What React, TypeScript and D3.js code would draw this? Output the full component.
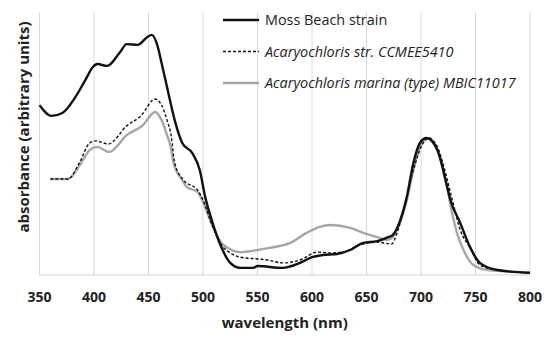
import React from "react";
import * as d3 from "d3";

// spectra: wavelength (nm) / absorbance (arbitrary, 0..1)
const mossWl = [350, 361, 371, 383, 392, 399, 403, 412, 424, 430, 440, 449, 453, 458, 462, 468, 474, 481, 490, 497, 502, 508, 516, 525, 534, 546, 550, 573, 589, 600, 610, 623, 635, 647, 660, 670, 674, 681, 687, 693, 699, 705, 715, 724, 727, 736, 745, 754, 770, 800];
const mossAbs = [0.646, 0.605, 0.616, 0.677, 0.741, 0.791, 0.802, 0.795, 0.848, 0.878, 0.875, 0.905, 0.913, 0.875, 0.806, 0.696, 0.589, 0.502, 0.464, 0.399, 0.297, 0.209, 0.114, 0.046, 0.027, 0.027, 0.034, 0.027, 0.046, 0.068, 0.076, 0.08, 0.095, 0.122, 0.129, 0.144, 0.152, 0.209, 0.297, 0.426, 0.502, 0.521, 0.475, 0.335, 0.285, 0.198, 0.106, 0.046, 0.019, 0.008];

const ccmeeWl = [360, 376, 387, 396, 402, 413, 430, 443, 456, 462, 467, 471, 474, 482, 495, 500, 509, 517, 525, 534, 550, 559, 573, 589, 605, 617, 628, 644, 660, 673, 678, 684, 693, 702, 707, 715, 720, 728, 736, 745, 754, 770, 800];
const ccmeeAbs = [0.365, 0.365, 0.43, 0.502, 0.51, 0.498, 0.567, 0.605, 0.669, 0.646, 0.589, 0.525, 0.426, 0.361, 0.323, 0.285, 0.183, 0.114, 0.084, 0.068, 0.061, 0.057, 0.046, 0.057, 0.087, 0.084, 0.087, 0.114, 0.125, 0.118, 0.16, 0.247, 0.399, 0.502, 0.521, 0.487, 0.426, 0.297, 0.171, 0.103, 0.038, 0.019, 0.008];

const mbicWl = [360, 376, 387, 396, 403, 414, 430, 445, 456, 462, 467, 470, 473, 481, 485, 495, 500, 509, 517, 523, 534, 550, 561, 580, 595, 607, 617, 635, 647, 660, 669, 674, 681, 687, 693, 699, 707, 713, 719, 725, 728, 733, 739, 748, 761, 800];
const mbicAbs = [0.365, 0.365, 0.418, 0.475, 0.487, 0.468, 0.532, 0.57, 0.62, 0.589, 0.532, 0.494, 0.426, 0.361, 0.335, 0.316, 0.278, 0.183, 0.122, 0.103, 0.087, 0.095, 0.103, 0.122, 0.16, 0.183, 0.19, 0.179, 0.16, 0.144, 0.133, 0.144, 0.202, 0.285, 0.399, 0.487, 0.521, 0.494, 0.426, 0.312, 0.247, 0.16, 0.095, 0.038, 0.019, 0.011];

const xTicks = [350, 400, 450, 500, 550, 600, 650, 700, 750, 800];
const seriesNames = ["Moss Beach strain", "Acaryochloris str. CCMEE5410", "Acaryochloris marina (type) MBIC11017"];

const W = 550;
const H = 338;
const font = "'Open Sans', 'DejaVu Sans', sans-serif";

export default function App() {
  const x = d3.scaleLinear().domain([350, 800]).range([39.5, 530]);
  const y = d3.scaleLinear().domain([0, 1]).range([275, 12]);

  const line = d3
    .line<[number, number]>()
    .x((d) => x(d[0]))
    .y((d) => y(d[1]))
    .curve(d3.curveMonotoneX);

  const zip = (a: number[], b: number[]) => a.map((v, i) => [v, b[i]] as [number, number]);

  const series = [
    { name: seriesNames[0], pts: zip(mossWl, mossAbs), stroke: "#111", width: 2.4, dash: undefined, italic: false },
    { name: seriesNames[1], pts: zip(ccmeeWl, ccmeeAbs), stroke: "#111", width: 1.4, dash: "3,2", italic: true },
    { name: seriesNames[2], pts: zip(mbicWl, mbicAbs), stroke: "#a6a6a6", width: 2.4, dash: undefined, italic: true },
  ];

  // gray under the dashed, black on top
  const drawOrder = [series[2], series[1], series[0]];

  return (
    <svg
      width={W}
      height={H}
      style={{ position: "absolute", left: 0, top: 0, background: "#fff" }}
      fontFamily={font}
    >
      {xTicks.map((t) => (
        <line key={t} x1={x(t)} x2={x(t)} y1={y(1)} y2={y(0)} stroke="#d9d9d9" strokeWidth={1} />
      ))}
      <line x1={x(350)} x2={x(800)} y1={y(0)} y2={y(0)} stroke="#d0d0d0" strokeWidth={1.2} />

      {drawOrder.map((s) => (
        <path
          key={s.name}
          d={line(s.pts) || ""}
          fill="none"
          stroke={s.stroke}
          strokeWidth={s.width}
          strokeDasharray={s.dash}
          strokeLinejoin="round"
        />
      ))}

      {xTicks.map((t) => (
        <text key={t} x={x(t)} y={302} textAnchor="middle" fontSize={14} fontWeight={700} fill="#222">
          {t}
        </text>
      ))}
      <text x={(x(350) + x(800)) / 2} y={328} textAnchor="middle" fontSize={15} fontWeight={700} fill="#222">
        wavelength (nm)
      </text>
      <text
        transform="translate(29,127) rotate(-90)"
        textAnchor="middle"
        fontSize={15}
        fontWeight={700}
        fill="#222"
      >
        absorbance (arbitrary units)
      </text>

      {series.map((s, i) => {
        const ly = 20 + i * 31.5;
        return (
          <g key={s.name}>
            <line x1={223} x2={259} y1={ly} y2={ly} stroke={s.stroke} strokeWidth={s.width} strokeDasharray={s.dash} />
            <text x={265} y={ly + 5} fontSize={14.4} fontStyle={s.italic ? "italic" : "normal"} fill="#222">
              {s.name}
            </text>
          </g>
        );
      })}
    </svg>
  );
}
